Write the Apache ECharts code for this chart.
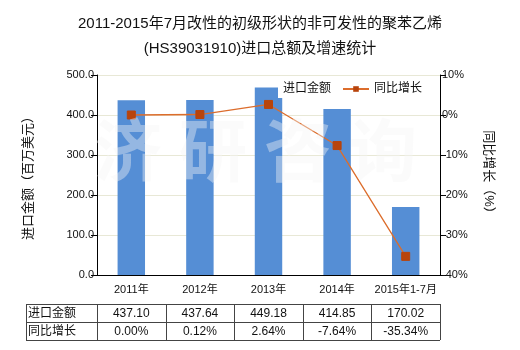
<!DOCTYPE html>
<html><head><meta charset="utf-8">
<script src="https://cdn.jsdelivr.net/npm/echarts@6/dist/echarts.min.js"></script>
<style>html,body{margin:0;padding:0;background:#fff}#c{width:520px;height:350px}</style>
</head><body><div id="c"></div>
<script>
const categories = ['2011年','2012年','2013年','2014年','2015年1-7月'];
const importValues = [437.10, 437.64, 469.0, 414.85, 170.02];   // bar heights as drawn
const growthValues = [0.00, 0.12, 2.64, -7.64, -35.34];
const tableImport = ['437.10','437.64','449.18','414.85','170.02'];
const tableGrowth = ['0.00%','0.12%','2.64%','-7.64%','-35.34%'];
const rowLabels = ['进口金额','同比增长'];
const leftTicks = {min:0, max:500, interval:100};
const rightTicks = {min:-40, max:10, interval:10};
const watermark = ['济','研','咨','询'];

const FONT = "'Liberation Sans','Noto Sans CJK SC',sans-serif";
const chart = echarts.init(document.getElementById('c'), null, {renderer:'canvas'});
const GL = 97, GR = 440, GT = 75, GB = 275;
const option = {
  animation:false,
  backgroundColor:'#fff',
  title:{text:'2011-2015年7月改性的初级形状的非可发性的聚苯乙烯\n(HS39031910)进口总额及增速统计',
    left:'center', top:6, textStyle:{fontSize:15, fontWeight:'normal', color:'#111', lineHeight:25, fontFamily:FONT}},
  grid:{left:GL, right:520-GR, top:GT, bottom:350-GB},
  legend:[
    {data:[{name:'进口金额', icon:'none'}], left:278, top:81, itemWidth:0, itemHeight:7,
     padding:[2,4,3,0], backgroundColor:'#fff', textStyle:{fontSize:12, color:'#111', fontFamily:FONT}},
    {data:['同比增长'], left:340, top:81, itemWidth:26, itemHeight:7,
     padding:[2,5,3,2], backgroundColor:'#fff', textStyle:{fontSize:12, color:'#111', fontFamily:FONT}}
  ],
  xAxis:{type:'category', data:categories,
    axisLine:{lineStyle:{color:'#000'}},
    axisTick:{alignWithLabel:true, length:4, lineStyle:{color:'#000'}},
    axisLabel:{color:'#111', fontSize:11, margin:9, fontFamily:FONT, interval:0}},
  yAxis:[
    {type:'value', min:leftTicks.min, max:leftTicks.max, interval:leftTicks.interval,
     name:'进口金额（百万美元）', nameLocation:'middle', nameGap:62, nameRotate:90,
     nameTextStyle:{fontSize:13, color:'#111', fontFamily:FONT},
     axisLine:{show:true, lineStyle:{color:'#000'}},
     axisTick:{show:true, length:6, lineStyle:{color:'#000'}},
     axisLabel:{color:'#111', fontSize:11, margin:3, fontFamily:FONT, formatter:v=>v.toFixed(1)},
     splitLine:{lineStyle:{color:'#e8e8d6'}}},
    {type:'value', min:rightTicks.min, max:rightTicks.max, interval:rightTicks.interval,
     name:'同比增长（%）', nameLocation:'middle', nameGap:42, nameRotate:-90,
     nameTextStyle:{fontSize:13, color:'#111', fontFamily:FONT},
     axisLine:{show:true, lineStyle:{color:'#000'}},
     axisTick:{show:true, length:6, lineStyle:{color:'#000'}},
     axisLabel:{color:'#111', fontSize:11, margin:2, fontFamily:FONT, formatter:v=>v+'%'},
     splitLine:{show:false}}
  ],
  series:[
    {name:'进口金额', type:'bar', data:importValues, barWidth:'40%', itemStyle:{color:'#558ed5'}, z:1},
    {name:'同比增长', type:'line', yAxisIndex:1, data:growthValues, symbol:'rect', symbolSize:8,
     lineStyle:{color:'#dc6d2c', width:1.3}, itemStyle:{color:'#b8440c', borderColor:'#b8440c'}, z:3}
  ]
};
chart.setOption(option);

// build table and watermark from axis scale
const cx = categories.map((c,i)=>chart.convertToPixel({xAxisIndex:0}, i));
const band = cx[1]-cx[0];
const xs = [26].concat(cx.map(c=>c-band/2), [cx[cx.length-1]+band/2]);
const rowY = [304, 322, 340];
const g = [];
const lineStyle = {stroke:'#444', lineWidth:1};
rowY.forEach(y=>g.push({type:'line', shape:{x1:xs[0], y1:y+0.5, x2:xs[xs.length-1], y2:y+0.5}, style:lineStyle, silent:true}));
xs.forEach(x=>g.push({type:'line', shape:{x1:Math.round(x)+0.5, y1:rowY[0], x2:Math.round(x)+0.5, y2:rowY[2]}, style:lineStyle, silent:true}));
[tableImport, tableGrowth].forEach((row, r)=>{
  const yc = (rowY[r]+rowY[r+1])/2 + 1;
  g.push({type:'text', x:28, y:yc, style:{text:rowLabels[r], fontSize:12, fontFamily:FONT, fill:'#111', verticalAlign:'middle', align:'left'}});
  row.forEach((t,i)=>g.push({type:'text', x:cx[i], y:yc, style:{text:t, fontSize:12, fontFamily:FONT, fill:'#111', verticalAlign:'middle', align:'center'}}));
});
watermark.forEach((ch,i)=>g.push({type:'text', x:128+i*85, y:150, z:100, silent:true,
  style:{text:ch, fontSize:68, fontWeight:'bold', fontFamily:"'Noto Sans CJK SC',sans-serif",
  fill:'rgba(245,245,245,0.4)', align:'center', verticalAlign:'middle'}}));
chart.setOption({graphic:g});
</script></body></html>
